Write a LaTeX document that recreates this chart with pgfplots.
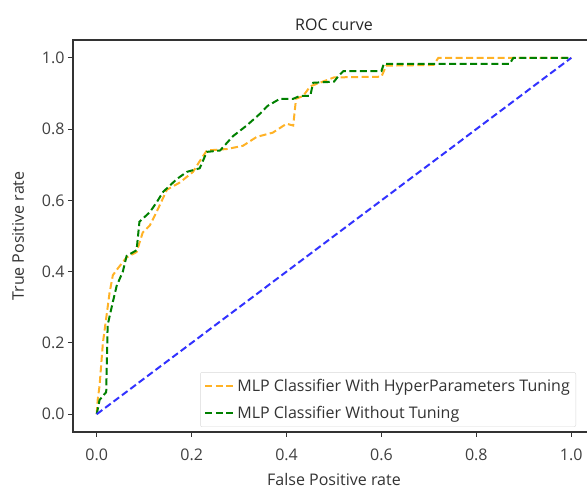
\documentclass[border=0pt]{standalone}
\usepackage{pgfplots}
\pgfplotsset{compat=1.18}
\usepackage{fontspec}
\setmainfont{Open Sans}
\definecolor{mplorange}{RGB}{255,165,0}
\definecolor{mplgreen}{RGB}{0,128,0}
\definecolor{mplblue}{RGB}{50,50,255}
\begin{document}
\begin{tikzpicture}
\begin{axis}[
  scale only axis,
  width=522pt, height=392pt,
  xmin=-0.05, xmax=1.05, ymin=-0.05, ymax=1.05,
  xtick={0,0.2,...,1.0}, ytick={0,0.2,...,1.0},
  xticklabels={0.0,0.2,0.4,0.6,0.8,1.0},
  yticklabels={0.0,0.2,0.4,0.6,0.8,1.0},
  tick align=outside, tick pos=left,
  major tick length=5pt,
  every tick/.style={black!80, line width=1pt},
  axis line style={black!80, line width=1.1pt},
  /pgf/number format/assume math mode=true,
  tick label style={font=\fontsize{16}{18}\selectfont, text=black!75},
  xticklabel style={yshift=-8pt},
  label style={font=\fontsize{16}{18}\selectfont, text=black!80},
  title style={font=\fontsize{16}{18}\selectfont, text=black!85, yshift=0pt},
  title={ROC curve},
  xlabel={False Positive rate},
  ylabel={True Positive rate},
  xlabel style={at={(axis description cs:0.5,0)}, anchor=center, yshift=-48pt},
  ylabel style={yshift=11pt},
  legend cell align=left,
  legend style={at={(1,0)}, anchor=south east, xshift=-19pt, yshift=5pt,
    draw=black!15, rounded corners=2pt, fill=white, fill opacity=0.85, text opacity=1,
    font=\fontsize{16}{18}\selectfont, text=black!80, row sep=9pt,
    inner xsep=4pt, inner ysep=5pt,
    every even column/.style={column sep=12pt}},
  legend image code/.code={\draw[#1] (0pt,0pt) -- (29pt,0pt);},
]
\addplot[mplorange, line width=2pt, dash pattern=on 7pt off 3.5pt, opacity=0.85] coordinates {
(0,0) (0.002,0.04) (0.006,0.08) (0.013,0.20) (0.027,0.34) (0.034,0.39)
(0.045,0.41) (0.063,0.44) (0.084,0.455) (0.097,0.51) (0.112,0.53)
(0.127,0.57) (0.148,0.63) (0.175,0.65) (0.203,0.68) (0.217,0.71)
(0.232,0.74) (0.274,0.744) (0.308,0.753) (0.337,0.778) (0.371,0.79)
(0.40,0.815) (0.414,0.81) (0.42,0.885) (0.435,0.893) (0.45,0.92)
(0.50,0.945) (0.60,0.947) (0.61,0.978) (0.71,0.98) (0.72,1.0) (1.0,1.0)
};
\addlegendentry{MLP Classifier With HyperParameters Tuning}
\addplot[mplgreen, line width=2pt, dash pattern=on 7pt off 3.5pt] coordinates {
(0,0) (0.006,0.04) (0.02,0.062) (0.023,0.25) (0.034,0.315) (0.042,0.36)
(0.055,0.40) (0.063,0.444) (0.084,0.46) (0.09,0.54) (0.112,0.567)
(0.127,0.596) (0.14,0.624) (0.169,0.66) (0.19,0.68) (0.217,0.69)
(0.232,0.736) (0.26,0.74) (0.287,0.78) (0.316,0.81) (0.344,0.843)
(0.36,0.865) (0.386,0.885) (0.414,0.885) (0.428,0.893) (0.45,0.893)
(0.456,0.93) (0.50,0.933) (0.51,0.95) (0.52,0.963) (0.60,0.963)
(0.605,0.983) (0.87,0.983) (0.878,1.0) (1.0,1.0)
};
\addlegendentry{MLP Classifier Without Tuning}
\addplot[mplblue, line width=2pt, dash pattern=on 7pt off 3.5pt, forget plot] coordinates {(0,0) (1,1)};
\end{axis}
\pgfresetboundingbox
\path ([xshift=-73pt,yshift=-58pt]current axis.south west) rectangle ([xshift=-8pt,yshift=40pt]current axis.north east);
\end{tikzpicture}
\end{document}
